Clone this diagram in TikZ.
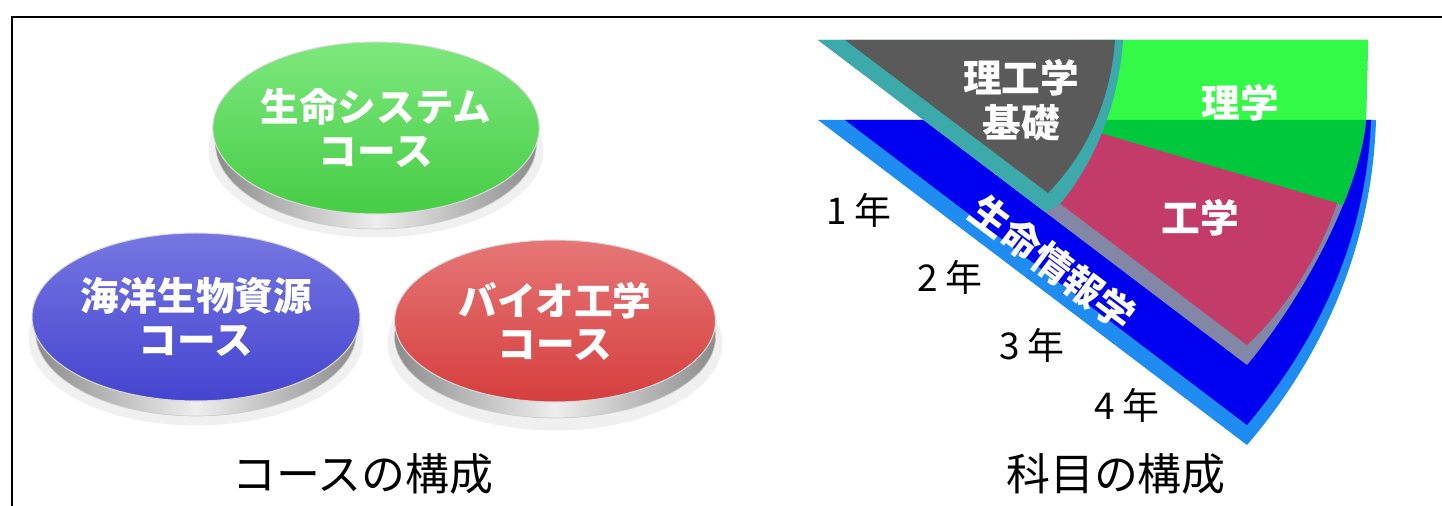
\documentclass[tikz,border=0pt]{standalone}
\usepackage{fontspec}
\setmainfont{Noto Sans CJK JP}
\definecolor{btngreen}{RGB}{70,205,70}
\definecolor{btngreentop}{RGB}{125,232,125}
\definecolor{btnblue}{RGB}{68,68,208}
\definecolor{btnbluetop}{RGB}{118,118,226}
\definecolor{btnred}{RGB}{214,62,62}
\definecolor{btnredtop}{RGB}{230,118,118}
\definecolor{rimdark}{RGB}{140,140,140}
\definecolor{rimlight}{RGB}{238,238,238}
\definecolor{skyblue}{RGB}{30,140,240}
\definecolor{deepblue}{RGB}{0,0,240}
\definecolor{tealband}{RGB}{60,170,170}
\definecolor{basegray}{RGB}{90,90,90}
\definecolor{sciencegreen}{RGB}{50,250,70}
\definecolor{darkgreen}{RGB}{0,200,60}
\definecolor{engmagenta}{RGB}{195,60,105}
\definecolor{slategray}{RGB}{130,135,165}
\usetikzlibrary{shapes.geometric}

\begin{document}
\begin{tikzpicture}[x=0.02cm,y=-0.02cm,
        halo/.style={ellipse,minimum width=6.7cm,minimum height=3.5cm,fill=black,opacity=0.06},
        rim/.style={ellipse,minimum width=6.42cm,minimum height=3.4cm,left color=rimdark,right color=rimdark,middle color=rimlight,draw=gray!40},
        face/.style={ellipse,minimum width=6.42cm,minimum height=3.4cm,inner sep=0pt,draw=white!70!gray,line width=0.6pt,
                     text=white,align=center,font=\bfseries\fontsize{22}{24.5}\selectfont},
        label/.style={text=white,align=center,font=\bfseries\fontsize{22}{25.5}\selectfont},
        year/.style={font=\fontsize{21}{21}\selectfont},
        caption/.style={font=\fontsize{25}{25}\selectfont}]
        \useasboundingbox (0,0) rectangle (1442,506);
        \draw[line width=1.5pt] (12,506) -- (12,17) -- (1442,17);

        % course buttons
        \node[halo] (greenhalo) at (376,150) {};
        \node[rim] (greenrim) at (376,144) {};
        \node[face,minimum height=3.44cm,top color=btngreentop,bottom color=btngreen] (green) at (376,128)
            {生命システム\\コース};
        \node[halo] (bluehalo) at (196,338) {};
        \node[rim,minimum height=3.36cm] (bluerim) at (196,332) {};
        \node[face,minimum height=3.36cm,top color=btnbluetop,bottom color=btnblue] (blue) at (196,317)
            {海洋生物資源\\コース};
        \node[halo] (redhalo) at (555,343) {};
        \node[rim,minimum height=3.24cm] (redrim) at (555,337) {};
        \node[face,minimum height=3.24cm,top color=btnredtop,bottom color=btnred] (red) at (555,321)
            {バイオ工学\\コース};
        \node[caption] (coursecap) at (363,474) {コースの構成};

        % subject fan
        \fill[skyblue] (818,120) -- (1376,120) .. controls (1372,250) and (1320,360) .. (1247,445) -- cycle;
        \fill[deepblue] (845,120) -- (1371,120) .. controls (1366,245) and (1314,345) .. (1247,425) -- cycle;
        \fill[slategray] (818,40) -- (1368,40) -- (1366,120) .. controls (1360,190) and (1305,295) .. (1247,365) -- cycle;
        \begin{scope}
            \clip (818,40) -- (1368,40) -- (1366,120) .. controls (1360,190) and (1305,295) .. (1247,365) -- cycle;
            \fill[sciencegreen] (1080,30) rectangle (1400,120);
            \fill[darkgreen] (1080,120) -- (1400,120) -- (1400,222) -- (1097,132) -- (1080,127) -- cycle;
        \end{scope}
        \fill[engmagenta] (1058,202) -- (1097,132) -- (1337,203) .. controls (1322,250) and (1290,305) .. (1247,345) -- cycle;
        \fill[tealband] (818,40) -- (1123,40) .. controls (1118,112) and (1090,168) .. (1060,204) -- (1045,212) -- cycle;
        \fill[basegray] (845,40) -- (1115,40) .. controls (1110,110) and (1080,160) .. (1048,193) -- cycle;

        \node[label] (base) at (1021,100) {理工学\\基礎};
        \node[label] (science) at (1240,103) {理学};
        \node[label] (engineering) at (1200,218) {工学};
        \node[label,rotate=-37] (bioinfo) at (1053,263) {生命情報学};

        \node[year] (y1) at (859,210) {1 年};
        \node[year] (y2) at (950,277) {2 年};
        \node[year] (y3) at (1032,345) {3 年};
        \node[year] (y4) at (1127,405) {4 年};
        \node[caption] (subjcap) at (1116,474) {科目の構成};
\end{tikzpicture}
\end{document}
